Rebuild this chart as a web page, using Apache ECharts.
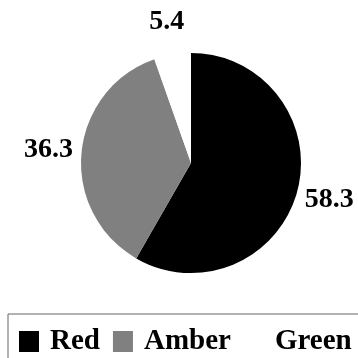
<!DOCTYPE html>
<html>
<head>
<meta charset="utf-8">
<script src="https://cdn.jsdelivr.net/npm/echarts@6/dist/echarts.min.js"></script>
<style>
html,body{margin:0;padding:0;background:#fff;}
#chart{width:358px;height:358px;}
</style>
</head>
<body>
<div id="chart"></div>
<script>
var categories = ['Red', 'Amber', 'Green'];
var values = [58.3, 36.3, 5.4];
var colors = ['#000000', '#808080', '#ffffff'];

var FONT = '"Liberation Serif", "Times New Roman", serif';

var pieData = categories.map(function (c, i) {
  return { name: c, value: values[i], itemStyle: { color: colors[i] } };
});
var labelData = categories.map(function (c, i) {
  return { name: c, value: values[i] };
});

var chart = echarts.init(document.getElementById('chart'), null, { renderer: 'canvas' });
chart.setOption({
  backgroundColor: '#ffffff',
  animation: false,
  legend: {
    data: categories,
    orient: 'horizontal',
    left: 8,
    top: 314,
    width: 600,
    padding: [13, 40, 40, 11],
    borderColor: '#666666',
    borderWidth: 1,
    itemWidth: 20,
    itemHeight: 21,
    itemGap: 13,
    icon: 'rect',
    selectedMode: false,
    textStyle: {
      fontFamily: FONT,
      fontWeight: 'bold',
      fontSize: 29,
      color: '#000',
      padding: [0, 0, 0, 6]
    }
  },
  series: [
    {
      type: 'pie',
      center: [191, 163],
      radius: [0, 110],
      startAngle: 90,
      clockwise: true,
      silent: true,
      label: { show: false },
      labelLine: { show: false },
      itemStyle: { borderWidth: 0 },
      data: pieData
    },
    {
      type: 'pie',
      center: [191, 163],
      radius: [130, 150],
      startAngle: 90,
      clockwise: true,
      silent: true,
      itemStyle: { color: 'rgba(0,0,0,0)', borderWidth: 0 },
      label: {
        show: true,
        position: 'inside',
        rotate: 0,
        fontFamily: FONT,
        fontWeight: 'bold',
        fontSize: 28,
        color: '#000',
        formatter: function (p) { return p.value.toFixed(1); }
      },
      labelLine: { show: false },
      data: labelData
    }
  ]
});
</script>
</body>
</html>
